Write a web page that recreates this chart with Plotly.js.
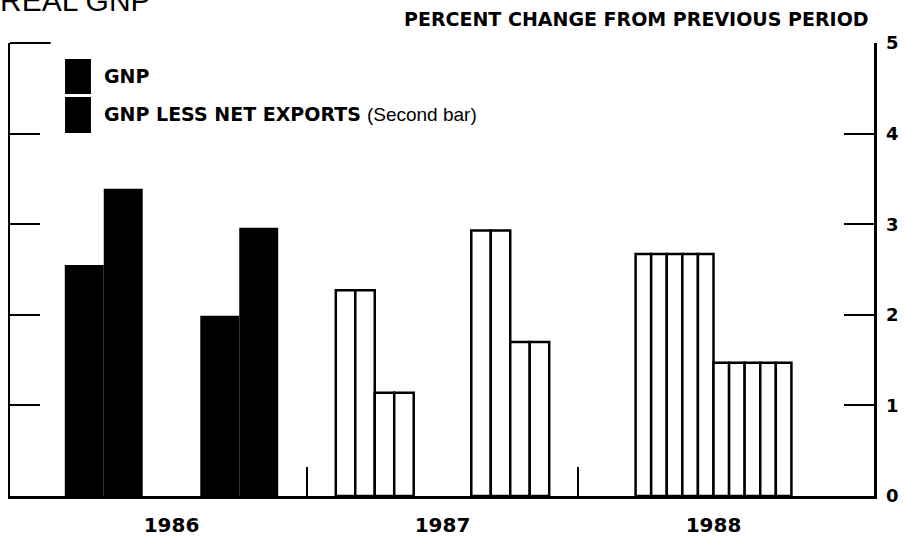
<!DOCTYPE html>
<html>
<head>
<meta charset="utf-8">
<script src="https://cdn.plot.ly/plotly-3.0.1.min.js"></script>
<style>
  html, body { margin: 0; padding: 0; background: #fff; }
  #chart { width: 905px; height: 537px; }
</style>
</head>
<body>
<div id="chart"></div>
<script>
// periods: start year and length (in years)
var periodStart = [1986, 1986.5, 1987, 1987.5, 1988]
var periodLength = [0.5, 0.5, 0.5, 0.5, 1]
// percent change from previous period
var gnp = [2.55, 1.99, 2.27, 2.93, 2.67]
var gnpLessNetExports = [3.39, 2.96, 1.14, 1.70, 1.47]
var years = ['1986', '1987', '1988']

// style: 0 = solid black, n = striped bar split in n cells
var hatchCells = [0, 0, 2, 2, 5]
var groupShare = 0.575

var boldFont = 'DejaVu Sans, Verdana, sans-serif'
var plainFont = 'Liberation Sans, Arial, sans-serif'

// build the bar traces
var solid = { x: [], y: [], width: [] }
var striped = { x: [], y: [], width: [] }

for (var i = 0; i < periodStart.length; i++) {
    var center = periodStart[i] + periodLength[i] / 2
    var groupW = periodLength[i] * groupShare
    var barW = groupW / 2
    var vals = [gnp[i], gnpLessNetExports[i]]
    for (var b = 0; b < 2; b++) {
        var left = center - groupW / 2 + b * barW
        if (hatchCells[i] == 0) {
            solid.x.push(left + barW / 2)
            solid.y.push(vals[b])
            solid.width.push(barW)
        } else {
            var n = hatchCells[i]
            for (var k = 0; k < n; k++) {
                striped.x.push(left + (k + 0.5) * barW / n)
                striped.y.push(vals[b])
                striped.width.push(barW / n)
            }
        }
    }
}

var data = [
    {
        type: 'bar',
        x: solid.x, y: solid.y, width: solid.width,
        marker: { color: '#000', line: { width: 0 } },
        showlegend: false, hoverinfo: 'skip'
    },
    {
        type: 'bar',
        x: striped.x, y: striped.y, width: striped.width,
        marker: { color: '#fff', line: { color: '#000', width: 2.5 } },
        showlegend: false, hoverinfo: 'skip'
    }
]

// plot area is 864 px wide, one year = 271 px
var x0 = 1987 - 297 / 271
var x1 = x0 + 864 / 271

var yearMid = years.map(function (y) { return Number(y) + 0.5 })

var layout = {
    width: 905,
    height: 537,
    margin: { l: 10, r: 31, t: 43, b: 41, pad: 0 },
    paper_bgcolor: '#fff',
    plot_bgcolor: '#fff',
    barmode: 'overlay',
    showlegend: false,
    font: { family: boldFont, color: '#000' },
    xaxis: {
        range: [x0, x1],
        showgrid: false,
        zeroline: false,
        showline: true,
        linecolor: '#000',
        linewidth: 3,
        tickmode: 'array',
        tickvals: yearMid,
        ticktext: years,
        ticks: '',
        ticklabelstandoff: 9,
        tickfont: { family: boldFont, size: 20, weight: 'bold' },
        minor: {
            tickmode: 'array',
            tickvals: [1987, 1988],
            ticks: 'inside',
            ticklen: 29,
            tickwidth: 2,
            tickcolor: '#000',
            showgrid: false
        },
        fixedrange: true
    },
    yaxis: {
        range: [0, 5],
        side: 'right',
        showgrid: false,
        zeroline: false,
        showline: true,
        mirror: 'ticks',
        linecolor: '#000',
        linewidth: 2.5,
        tickmode: 'array',
        tickvals: [0, 1, 2, 3, 4, 5],
        ticks: 'inside',
        ticklen: 30,
        tickwidth: 2,
        tickcolor: '#000',
        ticklabelstandoff: 6,
        tickfont: { family: boldFont, size: 18, weight: 'bold' },
        fixedrange: true
    },
    shapes: [
        // longer tick at the top left corner
        { type: 'line', xref: 'paper', yref: 'paper', x0: 0, x1: 0.047, y0: 1, y1: 1,
          line: { color: '#000', width: 2 } },
        // legend keys
        { type: 'rect', xref: 'paper', yref: 'paper', x0: 0.0637, x1: 0.0937, y0: 0.8874, y1: 0.9647,
          fillcolor: '#000', line: { width: 0 } },
        { type: 'rect', xref: 'paper', yref: 'paper', x0: 0.0637, x1: 0.0937, y0: 0.8013, y1: 0.8808,
          fillcolor: '#000', line: { width: 0 } }
    ],
    annotations: [
        {
            text: 'REAL GNP', xref: 'paper', yref: 'paper',
            x: -0.014, y: 1.053, xanchor: 'left', yanchor: 'bottom',
            showarrow: false, font: { family: plainFont, size: 30 }
        },
        {
            text: '<b>PERCENT CHANGE FROM PREVIOUS PERIOD</b>', xref: 'paper', yref: 'paper',
            x: 0.997, y: 1.053, xanchor: 'right', yanchor: 'middle',
            showarrow: false, font: { family: boldFont, size: 19 }
        },
        {
            text: '<b>GNP</b>', xref: 'paper', yref: 'paper',
            x: 0.1065, y: 0.927, xanchor: 'left', yanchor: 'middle',
            showarrow: false, font: { family: boldFont, size: 19 }
        },
        {
            text: '<b>GNP LESS NET EXPORTS</b> <span style="font-family:' + plainFont + '">(Second bar)</span>',
            xref: 'paper', yref: 'paper',
            x: 0.1065, y: 0.843, xanchor: 'left', yanchor: 'middle',
            showarrow: false, font: { family: boldFont, size: 19 }
        }
    ]
}

var config = { staticPlot: true, responsive: false }

Plotly.newPlot('chart', data, layout, config)
</script>
</body>
</html>
